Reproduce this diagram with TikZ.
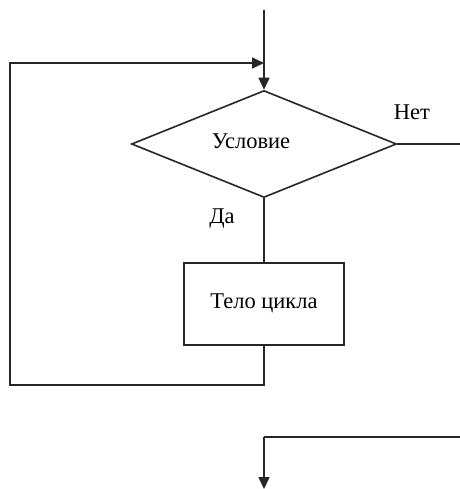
\documentclass[tikz,border=0pt]{standalone}
\usepackage{fontspec}
\setmainfont{Liberation Serif}
\usetikzlibrary{shapes.geometric,arrows.meta}
\begin{document}
\begin{tikzpicture}[x=1pt,y=-1pt,
  line/.style={draw=black!85,line width=1.6pt},
  arr/.style={line,-{Triangle[length=12pt,width=11pt]}},
  txt/.style={font=\fontsize{22.5}{26}\selectfont},
  lbl/.style={txt,inner sep=0pt}]
\useasboundingbox[fill=white] (0,0) rectangle (459,489);
\node[diamond,line,minimum width=265pt,minimum height=107pt,inner sep=0pt] (cond) at (264,144) {};
\node[lbl] (condtext) at (251,141) {Условие};
\node[rectangle,line,minimum width=160pt,minimum height=82pt,inner sep=0pt,txt] (body) at (264,304) {\raisebox{5pt}{Тело цикла}};
\node[lbl] (no) at (412,112) {Нет};
\node[lbl] (yes) at (222,219) {Да};
\coordinate (top) at (264,10);
\coordinate (lb) at (10,385);
\coordinate (lt) at (10,63);
\coordinate (in) at (264,63);
\coordinate (r1) at (461,144);
\coordinate (r2) at (461,437);
\coordinate (r3) at (264,437);
\coordinate (out) at (264,489);
\draw[arr] (top) -- (cond.north);
\draw[line] (cond.south) -- (body.north);
\draw[arr] (body.south) |- (lb) -- (lt) -- (in);
\draw[line] (cond.east) -- (r1) -- (r2) -- (r3);
\draw[arr] (r3) -- (out);
\end{tikzpicture}
\end{document}
